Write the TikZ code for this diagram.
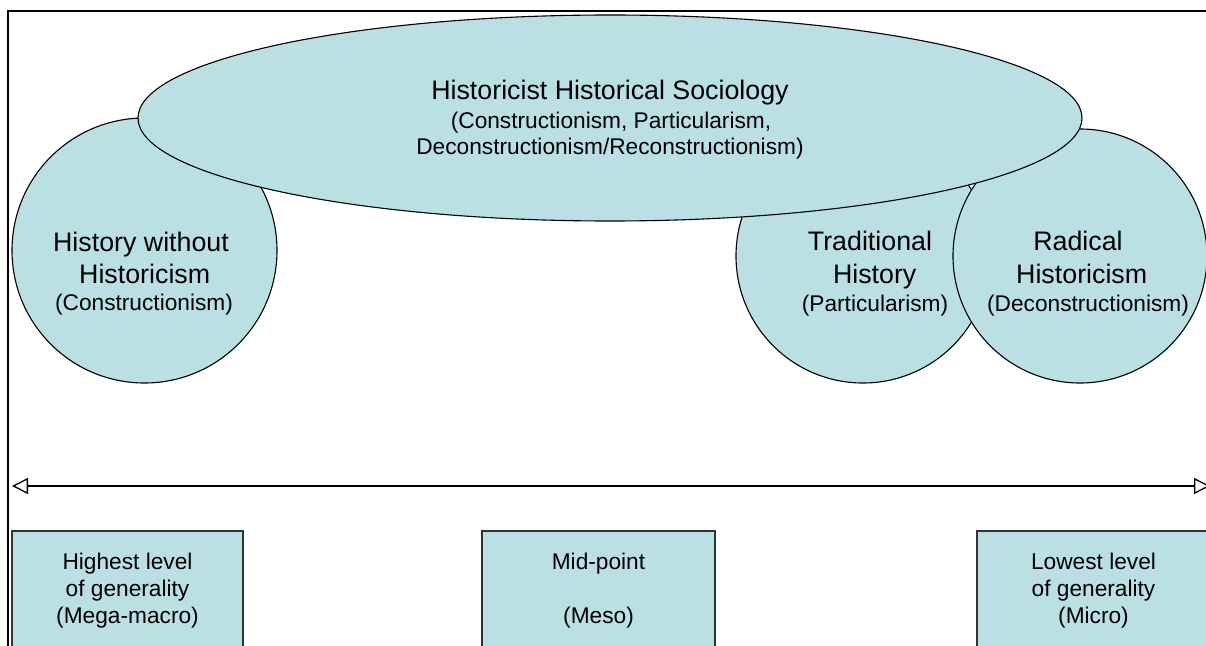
\documentclass[tikz,border=0pt]{standalone}
\usepackage{fontspec}
\setmainfont{Liberation Sans}
\usetikzlibrary{arrows.meta,shapes.geometric}
\definecolor{shapefill}{RGB}{187,224,227}
\begin{document}
\begin{tikzpicture}[x=1bp, y=-1bp,
  blob/.style={draw=black, line width=1.1bp, fill=shapefill, inner sep=0pt, outer sep=0pt},
  circ/.style={blob, circle},
  ell/.style={blob, ellipse},
  big/.style={font=\fontsize{26.8bp}{32bp}\selectfont, anchor=base, inner sep=0pt},
  small/.style={font=\fontsize{22.7bp}{27.2bp}\selectfont, anchor=base, inner sep=0pt},
  box/.style={draw=black!80, line width=1.2bp, fill=shapefill, inner sep=0pt, outer sep=0pt,
    align=center, font=\fontsize{22.7bp}{27.2bp}\selectfont, minimum height=119bp}
]
\useasboundingbox (0,0) rectangle (1206,646);
% frame (only top and left edges are inside the picture)
\draw[line width=2bp] (1230,11.2) -- (8.3,11.2) -- (8.3,660);
% circles and ellipse
\node[circ, minimum size=254bp] (trad) at (863,256) {};
\node[circ, minimum size=254bp] (rad) at (1080,256) {};
\node[circ, minimum size=265bp] (hwh) at (144.5,250.5) {};
\node[ell, minimum width=944bp, minimum height=206bp] (hhs) at (610,118) {};
% texts
\node[big] (hhs1) at (610,100) {Historicist Historical Sociology};
\node[small] (hhs2) at (611,129) {(Constructionism, Particularism,};
\node[small] (hhs3) at (610,155) {Deconstructionism/Reconstructionism)};
\node[big] (hwh1) at (141,251.7) {History without};
\node[big] (hwh2) at (144.7,283.3) {Historicism};
\node[small] (hwh3) at (144,311) {(Constructionism)};
\node[big] (trad1) at (870,250.7) {Traditional};
\node[big] (trad2) at (874.7,284) {History};
\node[small] (trad3) at (875,311.7) {(Particularism)};
\node[big] (rad1) at (1078,250.7) {Radical};
\node[big] (rad2) at (1081.7,284) {Historicism};
\node[small] (rad3) at (1088,311.7) {(Deconstructionism)};
% arrow
\coordinate (aL) at (12,486);
\coordinate (aR) at (1210,486);
\draw[line width=2.1bp, {Triangle[open,length=16bp,width=16bp,line width=1.3bp]}-{Triangle[open,length=16bp,width=16bp,line width=1.3bp]}] (aL) -- (aR);
% boxes
\node[box, minimum width=231bp] (bl) at (127.5,590.5) {Highest level\\of generality\\(Mega-macro)};
\node[box, minimum width=233bp] (bm) at (598.5,590.5) {Mid-point\\[27bp](Meso)};
\node[box, minimum width=233bp] (br) at (1093.5,590.5) {Lowest level\\of generality\\(Micro)};
\end{tikzpicture}
\end{document}
